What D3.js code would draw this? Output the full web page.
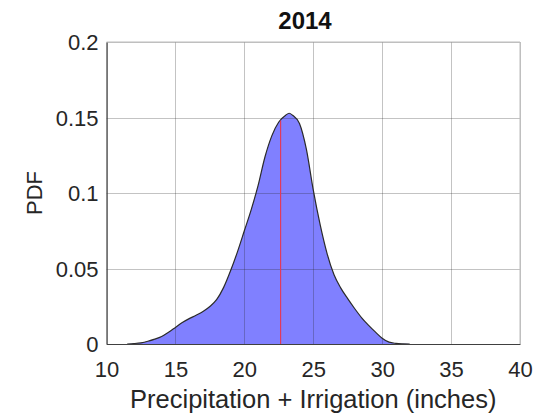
<!DOCTYPE html>
<html>
<head>
<meta charset="utf-8">
<script src="https://cdn.jsdelivr.net/npm/d3@7"></script>
<style>
  body { margin: 0; background: #fff; }
  svg { display: block; font-family: "Liberation Sans", Arial, sans-serif; }
</style>
</head>
<body>
<svg id="chart" width="537" height="415"></svg>
<script>
// kernel density
var xValues = [11.5, 12, 12.5, 13, 13.5, 14, 14.5, 15, 15.5, 16, 16.5, 17, 17.5, 18, 18.5, 19, 19.5, 20,
  20.5, 21, 21.5, 22, 22.5, 23, 23.25, 23.5, 24, 24.5, 25, 25.5, 26, 26.5, 27, 27.5, 28, 28.5, 29, 29.5, 30,
  30.5, 31, 31.5, 32];
var pdfValues = [0, 0.0003, 0.0008, 0.0018, 0.0032, 0.005, 0.0078, 0.011, 0.0142, 0.0168, 0.019, 0.0215,
  0.0248, 0.0295, 0.0375, 0.0485, 0.061, 0.075, 0.089, 0.105, 0.124, 0.138, 0.147, 0.1515, 0.1528, 0.1515,
  0.146, 0.129, 0.102, 0.079, 0.06, 0.046, 0.037, 0.03, 0.0235, 0.0175, 0.0125, 0.008, 0.0038, 0.0012,
  0.0004, 0.0001, 0];
var meanValue = [22.63];
var meanPdf = [0.148];
var xTicks = [10, 15, 20, 25, 30, 35, 40];
var yTicks = [0, 0.05, 0.1, 0.15, 0.2];
var titleLines = ["Supply of Precip + Irrig (inches)", "2014"];
var xLabel = "Precipitation + Irrigation (inches)";
var yLabel = "PDF";

var svg = d3.select("#chart");
// note: "top" is taken by window.top, so plot edges get their own names
var plotL = 106.5, plotR = 520, plotT = 42, plotB = 344;

var x = d3.scaleLinear().domain([10, 40]).range([plotL, plotR]);
var y = d3.scaleLinear().domain([0, 0.2]).range([plotB, plotT]);

var density = xValues.map(function(v, i) { return {x: v, y: pdfValues[i]}; });

// filled density
var area = d3.area()
  .x(function(d) { return x(d.x); })
  .y0(y(0))
  .y1(function(d) { return y(d.y); })
  .curve(d3.curveMonotoneX);

svg.append("path")
  .datum(density)
  .attr("d", area)
  .attr("fill", "#8080ff");

// grid on top, semi transparent so it darkens under the fill
var grid = svg.append("g").attr("class", "grid")
  .attr("stroke", "#262626").attr("stroke-opacity", 0.28).attr("stroke-width", 1);
grid.selectAll("line.gx").data(xTicks).enter().append("line")
  .attr("x1", function(d) { return Math.round(x(d)) + 0.5; })
  .attr("x2", function(d) { return Math.round(x(d)) + 0.5; })
  .attr("y1", plotT).attr("y2", plotB);
grid.selectAll("line.gy").data(yTicks).enter().append("line")
  .attr("y1", function(d) { return Math.round(y(d)) + 0.5; })
  .attr("y2", function(d) { return Math.round(y(d)) + 0.5; })
  .attr("x1", plotL).attr("x2", plotR);

// edge of the density
var line = d3.line()
  .x(function(d) { return x(d.x); })
  .y(function(d) { return y(d.y); })
  .curve(d3.curveMonotoneX);

svg.append("path")
  .datum(density)
  .attr("d", line)
  .attr("fill", "none")
  .attr("stroke", "#2a2a2a")
  .attr("stroke-width", 1.2);

// mean line
svg.selectAll("line.mean").data(meanValue).enter().append("line")
  .attr("x1", function(d) { return x(d); })
  .attr("x2", function(d) { return x(d); })
  .attr("y1", y(0))
  .attr("y2", function(d, i) { return y(meanPdf[i]); })
  .attr("stroke", "#e03a5c")
  .attr("stroke-width", 1.2);

// axes
var xAxis = d3.axisBottom(x).tickValues(xTicks).tickSize(0).tickPadding(17);
var yAxis = d3.axisLeft(y).tickValues(yTicks).tickSize(0).tickPadding(8)
  .tickFormat(function(d) { return d3.format("~g")(d); });

var gx = svg.append("g").attr("transform", "translate(0," + plotB + ")").call(xAxis);
var gy = svg.append("g").attr("transform", "translate(" + plotL + ",0)").call(yAxis);

[gx, gy].forEach(function(g) {
  g.select(".domain").attr("stroke", "#404040").attr("stroke-width", 1.2);
  g.selectAll("text")
    .attr("fill", "#262626")
    .style("font-size", "22px");
});
gx.selectAll("text").attr("dy", "0.71em");
gy.selectAll("text").attr("dy", "0.36em");

// right and top box edges
svg.append("line").attr("x1", plotR).attr("x2", plotR).attr("y1", plotT).attr("y2", plotB)
  .attr("stroke", "#bcbcbc");
svg.append("line").attr("x1", plotL).attr("x2", plotR).attr("y1", plotT).attr("y2", plotT)
  .attr("stroke", "#bcbcbc");

// labels
svg.append("text")
  .attr("x", (plotL + plotR) / 2)
  .attr("y", 408)
  .attr("text-anchor", "middle")
  .attr("fill", "#262626")
  .style("font-size", "25.5px")
  .text(xLabel);

svg.append("text")
  .attr("transform", "translate(42," + ((plotT + plotB) / 2) + ") rotate(-90)")
  .attr("text-anchor", "middle")
  .attr("fill", "#262626")
  .style("font-size", "22px")
  .text(yLabel);

// first title line sits above the picture, only its descenders show
svg.selectAll("text.title").data(titleLines).enter().append("text")
  .attr("class", "title")
  .attr("x", 305)
  .attr("y", function(d, i) { return -5 + i * 34; })
  .attr("text-anchor", "middle")
  .attr("fill", "#111")
  .style("font-size", "24px")
  .style("font-weight", "bold")
  .text(function(d) { return d; });
</script>
</body>
</html>
